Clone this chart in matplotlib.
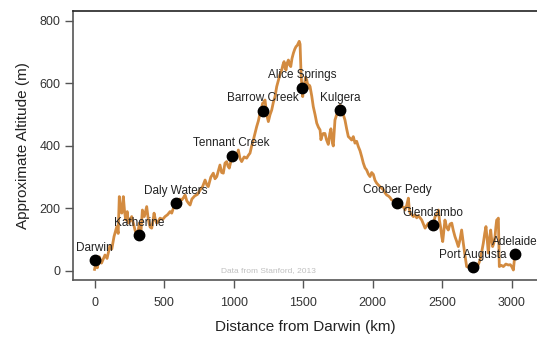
import matplotlib
matplotlib.use("Agg")
import matplotlib.pyplot as plt

plt.rcParams['font.family'] = ['Liberation Sans', 'DejaVu Sans']

# elevation profile (km from Darwin, altitude m)
km = [0, 12, 20, 35, 50, 75, 90, 110, 124, 140, 160, 170, 178, 188, 196, 207, 216, 224, 235, 243,
      255, 267, 280, 291, 300, 308, 322, 330, 344, 358, 375, 385, 392, 400, 411, 420, 428, 437, 447, 460,
      471, 490, 507, 525, 543, 555, 567, 586, 600, 613, 627, 640, 651, 663, 675, 687, 700, 720, 740, 759,
      777, 795, 808, 818, 836, 854, 866, 879, 890, 902, 914, 926, 938, 950, 960, 969, 985, 998, 1010, 1022,
      1034, 1046, 1058, 1076, 1094, 1106, 1118, 1130, 1142, 1154, 1166, 1178, 1190, 1200, 1209, 1218, 1226, 1238, 1250, 1262,
      1274, 1286, 1298, 1310, 1322, 1334, 1346, 1355, 1363, 1370, 1377, 1385, 1394, 1402, 1411, 1420, 1430, 1440, 1449, 1458,
      1466, 1472, 1478, 1485, 1491, 1497, 1503, 1509, 1517, 1526, 1531, 1537, 1544, 1550, 1562, 1573, 1586, 1598, 1610, 1622,
      1628, 1634, 1645, 1657, 1668, 1681, 1692, 1700, 1710, 1717, 1729, 1741, 1753, 1765, 1777, 1789, 1801, 1813, 1825, 1837,
      1849, 1861, 1873, 1885, 1897, 1909, 1921, 1933, 1945, 1957, 1969, 1981, 1993, 2005, 2017, 2029, 2041, 2053, 2065, 2077,
      2089, 2101, 2113, 2125, 2137, 2150, 2165, 2180, 2195, 2209, 2221, 2233, 2245, 2257, 2263, 2269, 2281, 2293, 2305, 2317,
      2329, 2341, 2353, 2365, 2377, 2389, 2401, 2413, 2425, 2437, 2449, 2461, 2473, 2481, 2490, 2497, 2504, 2512, 2520, 2532,
      2544, 2556, 2569, 2580, 2592, 2604, 2616, 2628, 2640, 2646, 2652, 2664, 2676, 2688, 2700, 2724, 2748, 2760, 2772, 2784,
      2796, 2806, 2815, 2824, 2832, 2840, 2849, 2856, 2863, 2872, 2880, 2886, 2892, 2898, 2904, 2908, 2911, 2925, 2940, 2958,
      2976, 2990, 3000, 3012, 3018, 3024]
alt = [5, 30, 10, 45, 25, 51, 40, 80, 70, 110, 142, 120, 238, 190, 185, 238, 190, 163, 190, 153,
       160, 174, 150, 131, 120, 110, 153, 100, 195, 174, 206, 170, 153, 140, 137, 160, 185, 165, 153, 160,
       169, 165, 174, 180, 190, 185, 201, 215, 205, 230, 227, 235, 243, 225, 217, 211, 230, 240, 245, 259,
       270, 291, 275, 270, 300, 313, 295, 302, 320, 339, 315, 313, 345, 350, 335, 329, 360, 355, 371, 365,
       387, 360, 350, 365, 361, 370, 377, 400, 419, 440, 462, 480, 505, 520, 537, 540, 547, 500, 478, 500,
       515, 540, 558, 590, 610, 630, 643, 660, 670, 650, 643, 665, 675, 660, 654, 680, 697, 710, 718, 722,
       729, 735, 726, 633, 590, 558, 580, 595, 620, 611, 600, 585, 595, 590, 560, 526, 500, 473, 460, 451,
       420, 430, 440, 440, 420, 405, 440, 455, 410, 400, 483, 500, 515, 530, 526, 500, 483, 455, 430, 425,
       419, 430, 409, 415, 398, 385, 366, 345, 330, 323, 310, 302, 315, 309, 290, 281, 275, 270, 265, 260,
       250, 243, 240, 235, 227, 225, 220, 215, 212, 206, 205, 195, 210, 233, 200, 185, 180, 174, 180, 170,
       177, 170, 163, 150, 137, 145, 153, 150, 140, 150, 174, 180, 195, 160, 137, 110, 94, 130, 163, 140,
       131, 150, 153, 130, 110, 95, 78, 100, 131, 110, 89, 50, 14, 12, 9, 10, 9, 20, 35, 60,
       89, 120, 142, 100, 57, 100, 131, 100, 78, 90, 110, 140, 163, 165, 169, 80, 14, 18, 14, 22,
       19, 20, 14, 3, 30, 62]

towns = ['Darwin', 'Katherine', 'Daly Waters', 'Tennant Creek', 'Barrow Creek', 'Alice Springs',
         'Kulgera', 'Coober Pedy', 'Glendambo', 'Port Augusta', 'Adelaide']
town_km = [0, 320, 586, 986, 1209, 1492, 1765, 2177, 2431, 2719, 3024]
town_alt = [35, 115, 217, 368, 513, 587, 515, 219, 147, 12, 53]

fig = plt.figure(figsize=(5.37, 3.38), dpi=100)
ax = fig.add_axes([73 / 537, 58 / 338, 1 - 73 / 537, 269 / 338])

ax.plot(km, alt, color='#D38B40', lw=2, zorder=2)
ax.plot(town_km, town_alt, 'o', color='black', ms=7.5, zorder=3)
for name, x, y in zip(towns, town_km, town_alt):
    ax.annotate(name, (x, y), xytext=(0, 9), textcoords='offset points',
                ha='center', va='center', fontsize=8.5, color='#222222', zorder=4)

ax.text(1250, 2, 'Data from Stanford, 2013', ha='center', va='center',
        fontsize=6, color='#c0c0c0')

ax.set_xlim(-155, 3182)
ax.set_ylim(-29, 832)
ax.set_xticks([0, 500, 1000, 1500, 2000, 2500, 3000])
ax.set_yticks([0, 200, 400, 600, 800])

ax.spines['right'].set_visible(False)
ax.spines['top'].set_color('#222222')
ax.spines['left'].set_color('#555555')
ax.spines['bottom'].set_color('#555555')
for s in ['top', 'left', 'bottom']:
    ax.spines[s].set_linewidth(1.2)
ax.tick_params(axis='both', length=6, width=1, color='#555555',
               labelsize=9, labelcolor='#333333')
ax.tick_params(axis='x', pad=6.5)
ax.tick_params(axis='y', pad=3)

ax.set_xlabel('Distance from Darwin (km)', fontsize=11, color='#222222', labelpad=8)
ax.set_ylabel('Approximate Altitude (m)', fontsize=11, color='#222222', labelpad=7)

fig.savefig('out.png', dpi=100)
